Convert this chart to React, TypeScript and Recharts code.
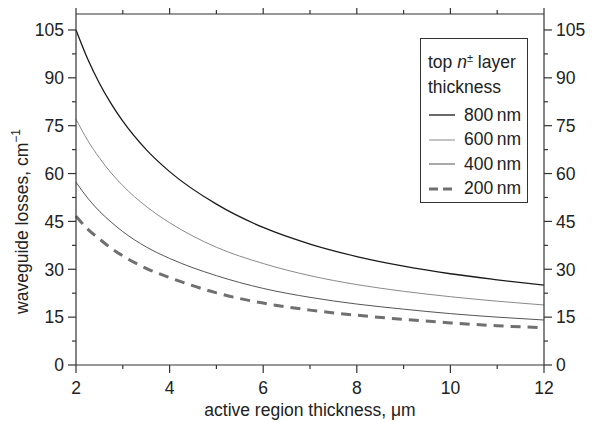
import { LineChart, Line, XAxis, YAxis, Label } from "recharts";

const thickness = [2, 2.25, 2.5, 2.75, 3, 3.5, 4, 5, 6, 7, 8, 9, 10, 11, 12];
const loss800 = [105, 95.9, 88.3, 81.9, 76.4, 67.5, 60.6, 50.4, 43.1, 37.9, 34, 31, 28.6, 26.7, 25];
const loss600 = [77, 70.4, 64.9, 60.2, 56.2, 49.7, 44.6, 36.9, 31.8, 28, 25.2, 23.1, 21.4, 20, 18.8];
const loss400 = [57.3, 52.3, 48.2, 44.8, 41.8, 37, 33.4, 28, 24, 21.2, 19.1, 17.5, 16.1, 15, 14.1];
const loss200 = [46.6, 42.6, 39.5, 36.6, 34.2, 30.3, 27.4, 22.6, 19.4, 17.2, 15.6, 14.3, 13.2, 12.3, 11.7];

const xTicks = [2, 3, 4, 5, 6, 7, 8, 9, 10, 11, 12];
const xLabelTicks = [2, 4, 6, 8, 10, 12];
const yTicks = [0, 7.5, 15, 22.5, 30, 37.5, 45, 52.5, 60, 67.5, 75, 82.5, 90, 97.5, 105];
const yLabelTicks = [0, 15, 30, 45, 60, 75, 90, 105];

const series = [
  { key: "s800", name: "800 nm", values: loss800, stroke: "#1a1a1a", width: 1.3, dash: undefined },
  { key: "s600", name: "600 nm", values: loss600, stroke: "#8a8a8a", width: 1, dash: undefined },
  { key: "s400", name: "400 nm", values: loss400, stroke: "#555", width: 1, dash: undefined },
  { key: "s200", name: "200 nm", values: loss200, stroke: "#707070", width: 3, dash: "10 7" },
];

const data = thickness.map((x, i) => {
  const row: Record<string, number> = { x };
  series.forEach((s) => (row[s.key] = s.values[i]));
  return row;
});

const FONT = '"Liberation Sans", Arial, sans-serif';
const FS = 17.5;
const INK = "#222";
const AXIS = "#333";
const MAJOR = 8;
const MINOR = 4;

function tickLen(v: number, majors: number[]) {
  return majors.includes(v) ? MAJOR : MINOR;
}

function LeftTick({ x, y, payload }: any) {
  const v = payload.value;
  const len = tickLen(v, yLabelTicks);
  return (
    <g>
      <line x1={x - len} x2={x} y1={y} y2={y} stroke={AXIS} strokeWidth={1.2} />
      {yLabelTicks.includes(v) && (
        <text x={x - 12} y={y} dy="0.36em" textAnchor="end" fontSize={FS} fontFamily={FONT} fill={INK}>
          {v}
        </text>
      )}
    </g>
  );
}

function RightTick({ x, y, payload }: any) {
  const v = payload.value;
  const len = tickLen(v, yLabelTicks);
  return (
    <g>
      <line x1={x} x2={x + len} y1={y} y2={y} stroke={AXIS} strokeWidth={1.2} />
      {yLabelTicks.includes(v) && (
        <text x={x + 12} y={y} dy="0.36em" textAnchor="start" fontSize={FS} fontFamily={FONT} fill={INK}>
          {v}
        </text>
      )}
    </g>
  );
}

function BottomTick({ x, y, payload }: any) {
  const v = payload.value;
  const len = tickLen(v, xLabelTicks);
  return (
    <g>
      <line x1={x} x2={x} y1={y} y2={y + len} stroke={AXIS} strokeWidth={1.2} />
      {xLabelTicks.includes(v) && (
        <text x={x} y={y + 29} textAnchor="middle" fontSize={FS} fontFamily={FONT} fill={INK}>
          {v}
        </text>
      )}
    </g>
  );
}

function TopTick({ x, y, payload }: any) {
  const len = tickLen(payload.value, xLabelTicks);
  return <line x1={x} x2={x} y1={y} y2={y - len} stroke={AXIS} strokeWidth={1.2} />;
}

function LegendSample({ stroke, width, dash }: { stroke: string; width: number; dash?: string }) {
  return (
    <svg width={28} height={10} style={{ marginRight: 8 }}>
      <line x1={1} x2={27} y1={5} y2={5} stroke={stroke} strokeWidth={width} strokeDasharray={dash ? "9 5" : undefined} />
    </svg>
  );
}

export default function App() {
  return (
    <div style={{ position: "relative", width: 606, height: 414, fontFamily: FONT, color: INK }}>
      <LineChart width={606} height={414} data={data} margin={{ top: 0, right: 10, bottom: 7, left: 8 }}>
        <XAxis
          dataKey="x"
          type="number"
          domain={[2, 12]}
          ticks={xTicks}
          interval={0}
          height={50}
          tickSize={0}
          tickMargin={0}
          tickLine={false}
          axisLine={{ stroke: AXIS, strokeWidth: 1.2 }}
          tick={BottomTick}
        >
          <Label
            content={({ viewBox }: any) => (
              <text
                x={viewBox.x + viewBox.width / 2}
                y={viewBox.y + 51}
                textAnchor="middle"
                fontSize={FS}
                fontFamily={FONT}
                fill={INK}
              >
                active region thickness, μm
              </text>
            )}
          />
        </XAxis>
        <XAxis
          xAxisId="top"
          orientation="top"
          dataKey="x"
          type="number"
          domain={[2, 12]}
          allowDataOverflow
          ticks={xTicks}
          interval={0}
          height={6}
          tickSize={0}
          tickMargin={0}
          tickLine={false}
          axisLine={{ stroke: AXIS, strokeWidth: 1.2 }}
          tick={TopTick}
        />
        <YAxis
          type="number"
          domain={[0, 110]}
          ticks={yTicks}
          interval={0}
          width={60}
          tickSize={0}
          tickMargin={0}
          tickLine={false}
          axisLine={{ stroke: AXIS, strokeWidth: 1.2 }}
          tick={LeftTick}
        >
          <Label
            content={({ viewBox }: any) => {
              const cx = viewBox.x + 6;
              const cy = viewBox.y + viewBox.height / 2 + 32;
              return (
                <text
                  x={cx}
                  y={cy}
                  transform={`rotate(-90 ${cx} ${cy})`}
                  textAnchor="middle"
                  dominantBaseline="central"
                  fontSize={FS}
                  fontFamily={FONT}
                  fill={INK}
                >
                  waveguide losses, cm
                  <tspan dy={-6} fontSize={12}>
                    −1
                  </tspan>
                </text>
              );
            }}
          />
        </YAxis>
        <YAxis
          yAxisId="right"
          orientation="right"
          type="number"
          domain={[0, 110]}
          allowDataOverflow
          ticks={yTicks}
          interval={0}
          width={60}
          tickSize={0}
          tickMargin={0}
          tickLine={false}
          axisLine={{ stroke: AXIS, strokeWidth: 1.2 }}
          tick={RightTick}
        />
        {series.map((s) => (
          <Line
            key={s.key}
            dataKey={s.key}
            name={s.name}
            type="monotone"
            stroke={s.stroke}
            strokeWidth={s.width}
            strokeDasharray={s.dash}
            dot={false}
            activeDot={false}
            isAnimationActive={false}
          />
        ))}
      </LineChart>
      <div
        style={{
          position: "absolute",
          left: 412,
          top: 30,
          width: 108,
          height: 165,
          boxSizing: "border-box",
          border: `1.2px solid ${AXIS}`,
          background: "#fff",
          padding: "7px 0 0 7px",
          fontSize: FS,
          lineHeight: "25px",
        }}
      >
        <div>
          top <i>n</i>
          <sup style={{ fontSize: 11, verticalAlign: "6px" }}>±</sup> layer
        </div>
        <div style={{ marginBottom: 3 }}>thickness</div>
        {series.map((s) => (
          <div key={s.key} style={{ display: "flex", alignItems: "center", height: 24.5 }}>
            <LegendSample stroke={s.stroke} width={s.width} dash={s.dash} />
            <span>{s.name.replace(" ", "\u2009")}</span>
          </div>
        ))}
      </div>
    </div>
  );
}
